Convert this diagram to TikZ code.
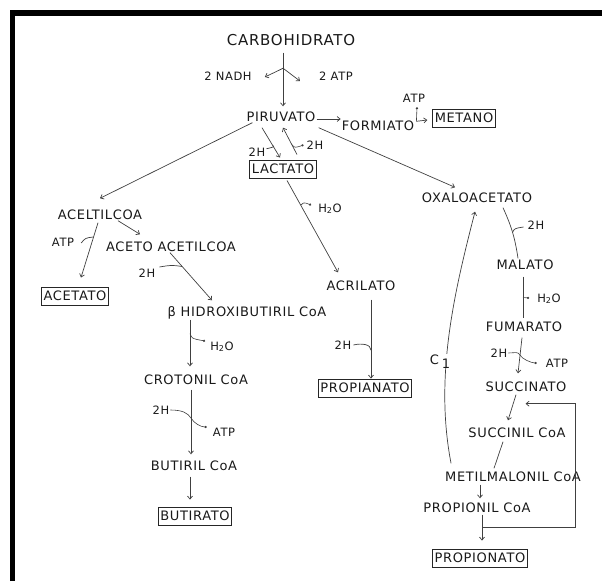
\documentclass[tikz,border=0pt]{standalone}
\usepackage{fontspec}
\newfontfamily\diagfont{DejaVu Sans}[LetterSpace=5]
\usetikzlibrary{arrows.meta,calc}
\tikzset{
  lbl/.style={font=\diagfont\fontsize{13}{15}\selectfont, text=black!90, inner sep=1pt, text height=9pt, text depth=0pt},
  small/.style={font=\diagfont\fontsize{11.5}{13}\selectfont, text=black!90, inner sep=1pt, text height=8pt, text depth=0pt},
  endbox/.style={lbl, draw=black!85, line width=0.9pt, inner xsep=2pt, inner ysep=4.5pt},
  flow/.style={draw=black!75, line width=0.7pt, -{Straight Barb[length=3pt,width=5pt]}},
  link/.style={draw=black!75, line width=0.7pt},
  hook/.style={draw=black!75, line width=0.6pt, -{Circle[length=2.2pt]}},
}
\begin{document}
\begin{tikzpicture}[x=1pt,y=-1pt]
\useasboundingbox (0,0) rectangle (602,581);
\draw[line width=5.5pt] (12.5,581) -- (12.5,13) -- (602,13);

% names of the compounds
\node[lbl, font=\diagfont\fontsize{15}{17}\selectfont, text height=11pt] (carbo) at (291,40) {CARBOHIDRATO};
\node[small] (nadh) at (228,76) {2 NADH};
\node[small] (atpa) at (336,76) {2 ATP};
\node[lbl] (piru) at (281,117) {PIRUVATO};
\node[lbl] (formiato) at (378,126) {FORMIATO};
\node[small] (atpb) at (414,98) {ATP};
\node[endbox] (metano) at (464,118) {METANO};
\node[endbox] (lactato) at (283,169) {LACTATO};
\node[small] (hA) at (257,152) {2H};
\node[small] (hB) at (315,145) {2H};
\node[lbl] (aceltil) at (100,215) {ACELTILCOA};
\node[small] (atpc) at (63,242) {ATP};
\node[lbl] (acetoac) at (171,247) {ACETO ACETILCOA};
\node[endbox] (acetato) at (75,296) {ACETATO};
\node[small] (hC) at (147,273) {2H};
\node[lbl] (hidroxi) at (247,312) {β\ HIDROXIBUTIRIL CoA};
\node[small] (waterA) at (222,346) {H\textsubscript{2}O};
\node[lbl] (crotonil) at (196,380) {CROTONIL CoA};
\node[small] (hD) at (161,410) {2H};
\node[small] (atpd) at (224,432) {ATP};
\node[lbl] (butiril) at (194,466) {BUTIRIL CoA};
\node[endbox] (butirato) at (195,516) {BUTIRATO};
\node[small] (waterB) at (330,208) {H\textsubscript{2}O};
\node[lbl] (acrilato) at (361,286) {ACRILATO};
\node[small] (hE) at (343,345) {2H};
\node[endbox] (propianato) at (365,388) {PROPIANATO};
\node[lbl] (oxalo) at (477,198) {OXALOACETATO};
\node[small] (hF) at (536,225) {2H};
\node[lbl] (malato) at (525,265) {MALATO};
\node[small] (waterC) at (549,298) {H\textsubscript{2}O};
\node[lbl] (fumarato) at (524,327) {FUMARATO};
\node[small] (hG) at (499,353) {2H};
\node[small] (atpe) at (557,363) {ATP};
\node[lbl] (succinato) at (526,387) {SUCCINATO};
\node[lbl] (succinil) at (517,433) {SUCCINIL CoA};
\node[lbl] (metil) at (513,477) {METILMALONIL CoA};
\node[lbl] (propionil) at (477,508) {PROPIONIL CoA};
\node[endbox] (propionato) at (480,558) {PROPIONATO};

% glicolise
\draw[flow] ($(carbo.south)+(-8pt,-6pt)$) -- coordinate[pos=.29] (fork) ($(piru.north)+(2pt,5pt)$);
\draw[flow] (fork) .. controls +(-6,3) .. ($(nadh.east)+(12pt,-1pt)$);
\draw[flow] (fork) -- ($(atpa.west)+(-18pt,-5pt)$);

% formiato e metano
\draw[flow] ($(piru.east)+(0,-2pt)$) -- ($(piru.east -| formiato.west)+(0,-2pt)$);
\draw[flow] ($(formiato.north east)+(1pt,-1pt)$) coordinate (fmA) -- ($(metano.west)+(-5pt,-2pt)$);
\draw[hook] (fmA) -- ($(atpb.south)+(3pt,-4pt)$);

% lactato
\draw[flow] ($(piru.south)+(-19pt,-5pt)$) -- coordinate[pos=.6] (toLac) ($(lactato.north)+(-3pt,2pt)$);
\draw[link] ($(hA.north east)+(0,-2pt)$) .. controls +(8,-2) .. (toLac);
\draw[flow] ($(lactato.north)+(14pt,5pt)$) -- coordinate[pos=.36] (toPir) ($(piru.south)+(2pt,-5pt)$);
\draw[hook] (toPir) .. controls +(3,3) .. ($(hB.west)+(-2pt,0)$);

% acetato e butirato
\draw[flow] ($(piru.south west)+(7pt,0)$) -- ($(aceltil.north)+(0,11pt)$);
\draw[flow] ($(aceltil.south)+(-2pt,-2pt)$) -- coordinate[pos=.26] (toAcet) ($(acetato.north)+(6pt,9pt)$);
\draw[link] ($(atpc.east)+(6pt,-1pt)$) .. controls +(4,-5) .. (toAcet);
\draw[flow] ($(aceltil.south)+(18pt,0)$) -- ($(acetoac.north)+(-31pt,7pt)$);
\draw[flow] ($(acetoac.south)+(-1pt,0)$) -- coordinate[pos=.29] (toHid) ($(hidroxi.north)+(-35pt,6pt)$);
\draw[link] ($(hC.east)+(3pt,6pt)$) .. controls +(12,-2) .. (toHid);
\draw[flow] ($(crotonil.north |- hidroxi.south)+(-6pt,-2pt)$) -- coordinate[pos=.3] (toCro) ($(crotonil.north)+(-6pt,8pt)$);
\draw[hook] (toCro) .. controls +(2,5) .. ($(waterA.west)+(-4pt,5pt)$);
\draw[flow] ($(crotonil.south)+(-5pt,-4pt)$) -- coordinate[pos=.44] (toBut) ($(butiril.north)+(-3pt,6pt)$);
\draw[hook] (hD.east) .. controls +(12,0) and +(-3,-5) .. (toBut) .. controls +(3,5) and +(-6,0) .. ($(atpd.west)+(-5pt,5pt)$);
\draw[flow] ($(butiril.south)+(-4pt,-5pt)$) -- ($(butirato.north)+(-5pt,7pt)$);

% via do acrilato
\draw[flow] ($(lactato.south)+(4pt,-2pt)$) -- coordinate[pos=.27] (toAcr) ($(acrilato.north)+(-23pt,8pt)$);
\draw[hook] (toAcr) .. controls +(3,-3) .. ($(waterB.west)+(-6pt,3pt)$);
\draw[flow] ($(acrilato.south)+(10pt,-8pt)$) -- coordinate[pos=.64] (toProp) ($(propianato.north)+(6pt,0)$);
\draw[link] ($(hE.east)+(1pt,0)$) .. controls +(8,-2) and +(0,-6) .. (toProp);

% via do succinato
\draw[flow] ($(piru.south east)+(2pt,-5pt)$) -- ($(oxalo.north)+(-22pt,5pt)$);
\draw[link] ($(oxalo.south)+(26pt,-4pt)$) to[bend left=8] coordinate[pos=.5] (toMal) ($(malato.north)+(-7pt,1pt)$);
\draw[link] (toMal) .. controls +(2,-4) .. ($(hF.west)+(-3pt,-2pt)$);
\draw[link] ($(malato.south)+(-2pt,-6pt)$) -- coordinate[pos=.5] (toFum) ($(fumarato.north)+(-1pt,3pt)$);
\draw[hook] (toFum) -- ($(waterC.west)+(-7pt,0)$);
\draw[flow] ($(fumarato.south)+(-2pt,-5pt)$) -- coordinate[pos=.49] (toSuc) ($(succinato.north)+(-8pt,8pt)$);
\draw[hook] (hG.east) .. controls +(6,0) and +(-2,-4) .. (toSuc) .. controls +(2,4) and +(-5,0) .. ($(atpe.west)+(-8pt,0)$);
\draw[flow] ($(succinato.south)+(-10pt,-2pt)$) -- ($(succinil.north)+(-9pt,7pt)$);
\draw[link] ($(succinil.south)+(-14pt,-3pt)$) -- ($(metil.north)+(-19pt,3pt)$);
\draw[flow] ($(metil.north west)+(7pt,8pt)$) .. controls +(-17,-88) and +(-20,78) .. ($(oxalo.south)+(-2pt,-8pt)$);
\node[lbl, fill=white, inner sep=2pt] (cone) at (440,360) {C\hspace{3pt}\raisebox{-4pt}{1}};
\draw[flow] ($(metil.south)+(-33pt,-2pt)$) -- ($(propionil.north)+(3pt,4pt)$);
\draw[flow] ($(propionil.south)+(5pt,-1pt)$) -- coordinate[pos=.5] (fbStart) ($(propionato.north)+(2pt,8pt)$);
\draw[flow] (fbStart) -| ($(metil.east)+(-7pt,0)$) |- ($(succinato.south east)+(-42pt,-11pt)$);
\end{tikzpicture}
\end{document}
